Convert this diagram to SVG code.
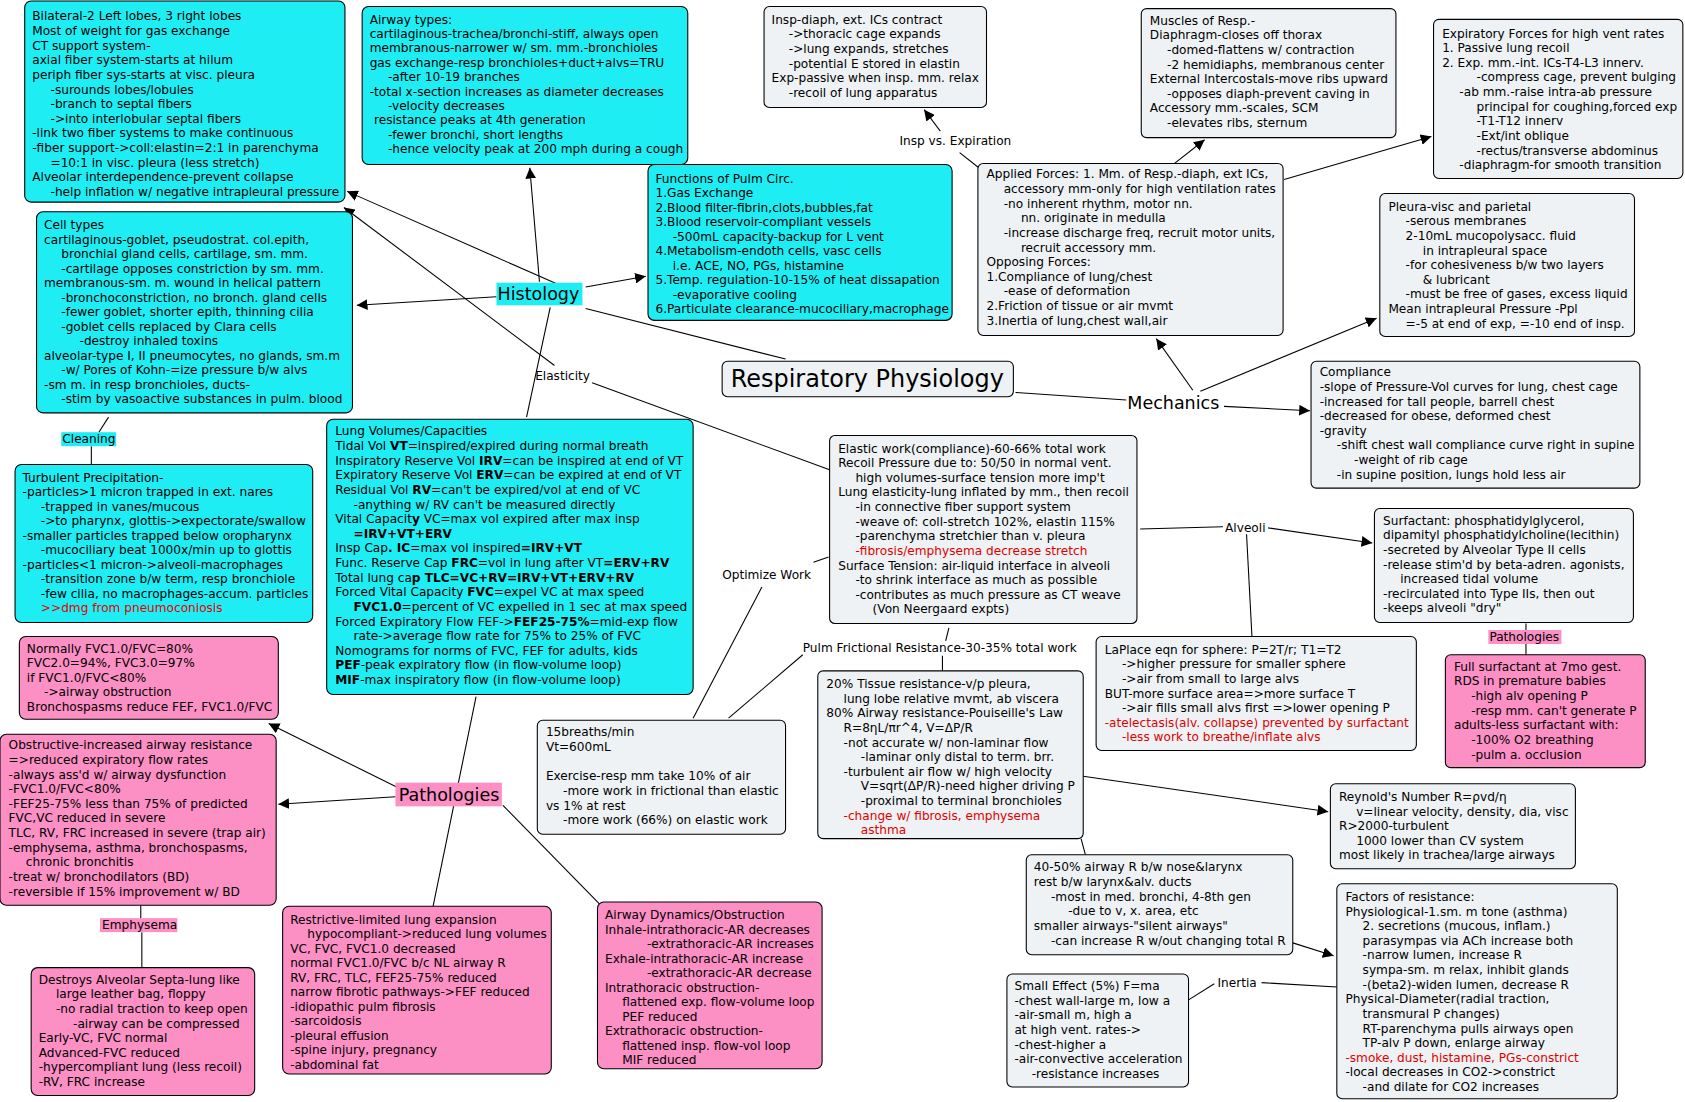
<svg xmlns="http://www.w3.org/2000/svg" width="1685" height="1102" viewBox="0 0 1685 1102">
<defs>
<marker id="ar" viewBox="0 0 10 10" refX="10" refY="5" markerWidth="10" markerHeight="10" markerUnits="userSpaceOnUse" orient="auto"><path d="M0,0 L10,5 L0,10 z" fill="#000"/></marker>
<style>
text{font-family:"DejaVu Sans","Verdana",sans-serif;font-size:11.3px;fill:#000}
.c{fill:#1eeef4;stroke:#000;stroke-width:1}
.g{fill:#eef2f4;stroke:#000;stroke-width:1}
.p{fill:#fc8fc4;stroke:#000;stroke-width:1}
.b{font-weight:bold}
.r{fill:#e00000}
.big{font-size:16.3px}
.lbl{font-size:11.3px}
#conn line,#conn polyline{stroke:#000;stroke-width:1;fill:none}
.a{marker-end:url(#ar)}
</style>
</defs>
<rect width="1685" height="1102" fill="#fff"/>
<g transform="scale(1.07462,1.07512)">
<g id="conn">
<line x1="518" y1="264" x2="323" y2="178" class="a"/>
<line x1="502" y1="262" x2="493" y2="156" class="a"/>
<line x1="545" y1="267" x2="601" y2="257" class="a"/>
<line x1="462" y1="276" x2="332" y2="284" class="a"/>
<line x1="545" y1="287" x2="731" y2="334"/>
<line x1="512" y1="286" x2="490" y2="388"/>
<line x1="516" y1="340" x2="320" y2="193" class="a"/>
<line x1="551" y1="356" x2="772" y2="437"/>
<line x1="101" y1="388" x2="92" y2="402"/>
<line x1="85" y1="415" x2="85" y2="432"/>
<line x1="443" y1="648" x2="403" y2="843"/>
<line x1="371" y1="733" x2="250" y2="673" class="a"/>
<line x1="368" y1="741" x2="259" y2="748" class="a"/>
<line x1="468" y1="749" x2="558" y2="841"/>
<line x1="131" y1="842" x2="131" y2="854"/>
<line x1="132" y1="867" x2="132" y2="900"/>
<line x1="945" y1="365" x2="1048" y2="372"/>
<line x1="1110" y1="363" x2="1076" y2="315" class="a"/>
<line x1="1117" y1="364" x2="1281" y2="296" class="a"/>
<line x1="1139" y1="378" x2="1219" y2="382" class="a"/>
<line x1="912" y1="157" x2="893" y2="142"/>
<line x1="875" y1="122" x2="860" y2="102" class="a"/>
<line x1="1093" y1="152" x2="1121" y2="130" class="a"/>
<line x1="1195" y1="167" x2="1332" y2="127" class="a"/>
<line x1="1061" y1="492" x2="1138" y2="490"/>
<line x1="1180" y1="491" x2="1277" y2="505" class="a"/>
<line x1="1160" y1="497" x2="1165" y2="592"/>
<line x1="1420" y1="580" x2="1420" y2="586"/>
<line x1="1420" y1="599" x2="1420" y2="609"/>
<line x1="771" y1="518" x2="757" y2="523"/>
<line x1="709" y1="546" x2="645" y2="668"/>
<line x1="747" y1="609" x2="678" y2="668"/>
<line x1="883" y1="584" x2="880" y2="596"/>
<line x1="877" y1="610" x2="877" y2="624"/>
<line x1="1008" y1="722" x2="1236" y2="755" class="a"/>
<line x1="1006" y1="780" x2="1010" y2="795"/>
<line x1="1203" y1="877" x2="1241" y2="889" class="a"/>
<line x1="1106" y1="930" x2="1130" y2="915"/>
<line x1="1174" y1="914" x2="1244" y2="918"/>
</g>

<g id="n-box1"><rect class="c" x="23" y="1" width="298" height="187" rx="6"/>
<text y="19"><tspan x="30">Bilateral-2 Left lobes, 3 right lobes</tspan><tspan x="30" dy="13.6">Most of weight for gas exchange</tspan><tspan x="30" dy="13.6">CT support system-</tspan><tspan x="30" dy="13.6">axial fiber system-starts at hilum</tspan><tspan x="30" dy="13.6">periph fiber sys-starts at visc. pleura</tspan><tspan x="47" dy="13.6">-surounds lobes/lobules</tspan><tspan x="47" dy="13.6">-branch to septal fibers</tspan><tspan x="47" dy="13.6">-&gt;into interlobular septal fibers</tspan><tspan x="30" dy="13.6">-link two fiber systems to make continuous</tspan><tspan x="30" dy="13.6">-fiber support-&gt;coll:elastin=2:1 in parenchyma</tspan><tspan x="47" dy="13.6">=10:1 in visc. pleura (less stretch)</tspan><tspan x="30" dy="13.6">Alveolar interdependence-prevent collapse</tspan><tspan x="47" dy="13.6">-help inflation w/ negative intrapleural pressure</tspan></text></g>

<g id="n-airway"><rect class="c" x="337" y="6" width="303" height="147" rx="6"/>
<text y="22"><tspan x="344">Airway types:</tspan><tspan x="344" dy="13.4">cartilaginous-trachea/bronchi-stiff, always open</tspan><tspan x="344" dy="13.4">membranous-narrower w/ sm. mm.-bronchioles</tspan><tspan x="344" dy="13.4">gas exchange-resp bronchioles+duct+alvs=TRU</tspan><tspan x="361" dy="13.4">-after 10-19 branches</tspan><tspan x="344" dy="13.4">-total x-section increases as diameter decreases</tspan><tspan x="361" dy="13.4">-velocity decreases</tspan><tspan x="348" dy="13.4">resistance peaks at 4th generation</tspan><tspan x="361" dy="13.4">-fewer bronchi, short lengths</tspan><tspan x="361" dy="13.4">-hence velocity peak at 200 mph during a cough</tspan></text></g>

<g id="n-func"><rect class="c" x="603" y="153" width="283" height="145" rx="6"/>
<text y="170"><tspan x="610">Functions of Pulm Circ.</tspan><tspan x="610" dy="13.5">1.Gas Exchange</tspan><tspan x="610" dy="13.5">2.Blood filter-fibrin,clots,bubbles,fat</tspan><tspan x="610" dy="13.5">3.Blood reservoir-compliant vessels</tspan><tspan x="626" dy="13.5">-500mL capacity-backup for L vent</tspan><tspan x="610" dy="13.5">4.Metabolism-endoth cells, vasc cells</tspan><tspan x="626" dy="13.5">i.e. ACE, NO, PGs, histamine</tspan><tspan x="610" dy="13.5">5.Temp. regulation-10-15% of heat dissapation</tspan><tspan x="626" dy="13.5">-evaporative cooling</tspan><tspan x="610" dy="13.5">6.Particulate clearance-mucociliary,macrophage</tspan></text></g>

<g id="n-cell"><rect class="c" x="34" y="197" width="294" height="187" rx="6"/>
<text y="213"><tspan x="41">Cell types</tspan><tspan x="41" dy="13.5">cartilaginous-goblet, pseudostrat. col.epith,</tspan><tspan x="57" dy="13.5">bronchial gland cells, cartilage, sm. mm.</tspan><tspan x="57" dy="13.5">-cartilage opposes constriction by sm. mm.</tspan><tspan x="41" dy="13.5">membranous-sm. m. wound in helical pattern</tspan><tspan x="57" dy="13.5">-bronchoconstriction, no bronch. gland cells</tspan><tspan x="57" dy="13.5">-fewer goblet, shorter epith, thinning cilia</tspan><tspan x="57" dy="13.5">-goblet cells replaced by Clara cells</tspan><tspan x="74" dy="13.5">-destroy inhaled toxins</tspan><tspan x="41" dy="13.5">alveolar-type I, II pneumocytes, no glands, sm.m</tspan><tspan x="57" dy="13.5">-w/ Pores of Kohn-=ize pressure b/w alvs</tspan><tspan x="41" dy="13.5">-sm m. in resp bronchioles, ducts-</tspan><tspan x="57" dy="13.5">-stim by vasoactive substances in pulm. blood</tspan></text></g>

<g id="n-cleaning"><rect x="57" y="402" width="51" height="13" fill="#1eeef4"/><text x="58" y="412.5" class="lbl">Cleaning</text></g>

<g id="n-turb"><rect class="c" x="14" y="432" width="277" height="147" rx="6"/>
<text y="448"><tspan x="21">Turbulent Precipitation-</tspan><tspan x="21" dy="13.5">-particles&gt;1 micron trapped in ext. nares</tspan><tspan x="38" dy="13.5">-trapped in vanes/mucous</tspan><tspan x="38" dy="13.5">-&gt;to pharynx, glottis-&gt;expectorate/swallow</tspan><tspan x="21" dy="13.5">-smaller particles trapped below oropharynx</tspan><tspan x="38" dy="13.5">-mucociliary beat 1000x/min up to glottis</tspan><tspan x="21" dy="13.5">-particles&lt;1 micron-&gt;alveoli-macrophages</tspan><tspan x="38" dy="13.5">-transition zone b/w term, resp bronchiole</tspan><tspan x="38" dy="13.5">-few cilia, no macrophages-accum. particles</tspan><tspan x="38" dy="13.5" class="r">&gt;&gt;dmg from pneumoconiosis</tspan></text></g>

<g id="n-vol"><rect class="c" x="304" y="390" width="341" height="256" rx="6"/>
<text y="405"><tspan x="312">Lung Volumes/Capacities</tspan><tspan x="312" dy="13.6">Tidal Vol <tspan class="b">VT</tspan>=inspired/expired during normal breath</tspan><tspan x="312" dy="13.6">Inspiratory Reserve Vol <tspan class="b">IRV</tspan>=can be inspired at end of VT</tspan><tspan x="312" dy="13.6">Expiratory Reserve Vol <tspan class="b">ERV</tspan>=can be expired at end of VT</tspan><tspan x="312" dy="13.6">Residual Vol <tspan class="b">RV</tspan>=can't be expired/vol at end of VC</tspan><tspan x="329" dy="13.6">-anything w/ RV can't be measured directly</tspan><tspan x="312" dy="13.6">Vital Capacit<tspan class="b">y</tspan> VC=max vol expired after max insp</tspan><tspan x="329" dy="13.6" class="b">=IRV+VT+ERV</tspan><tspan x="312" dy="13.6">Insp Cap<tspan class="b">. IC</tspan>=max vol inspired<tspan class="b">=IRV+VT</tspan></tspan><tspan x="312" dy="13.6">Func. Reserve Cap <tspan class="b">FRC</tspan>=vol in lung after VT<tspan class="b">=ERV+RV</tspan></tspan><tspan x="312" dy="13.6">Total lung ca<tspan class="b">p TLC=VC+RV=IRV+VT+ERV+RV</tspan></tspan><tspan x="312" dy="13.6">Forced Vital Capacity <tspan class="b">FVC</tspan>=expel VC at max speed</tspan><tspan x="329" dy="13.6"><tspan class="b">FVC1.0</tspan>=percent of VC expelled in 1 sec at max speed</tspan><tspan x="312" dy="13.6">Forced Expiratory Flow FEF-&gt;<tspan class="b">FEF25-75%</tspan>=mid-exp flow</tspan><tspan x="329" dy="13.6">rate-&gt;average flow rate for 75% to 25% of FVC</tspan><tspan x="312" dy="13.6">Nomograms for norms of FVC, FEF for adults, kids</tspan><tspan x="312" dy="13.6"><tspan class="b">PEF</tspan>-peak expiratory flow (in flow-volume loop)</tspan><tspan x="312" dy="13.6"><tspan class="b">MIF</tspan>-max inspiratory flow (in flow-volume loop)</tspan></text></g>

<g id="n-fvc"><rect class="p" x="18" y="592" width="241" height="77" rx="6"/>
<text y="607"><tspan x="25">Normally FVC1.0/FVC=80%</tspan><tspan x="25" dy="13.5">FVC2.0=94%, FVC3.0=97%</tspan><tspan x="25" dy="13.5">if FVC1.0/FVC&lt;80%</tspan><tspan x="41" dy="13.5">-&gt;airway obstruction</tspan><tspan x="25" dy="13.5">Bronchospasms reduce FEF, FVC1.0/FVC</tspan></text></g>

<g id="n-obs"><rect class="p" x="0" y="683" width="257" height="159" rx="6"/>
<text y="697"><tspan x="8">Obstructive-increased airway resistance</tspan><tspan x="8" dy="13.6">=&gt;reduced expiratory flow rates</tspan><tspan x="8" dy="13.6">-always ass'd w/ airway dysfunction</tspan><tspan x="8" dy="13.6">-FVC1.0/FVC&lt;80%</tspan><tspan x="8" dy="13.6">-FEF25-75% less than 75% of predicted</tspan><tspan x="8" dy="13.6">FVC,VC reduced in severe</tspan><tspan x="8" dy="13.6">TLC, RV, FRC increased in severe (trap air)</tspan><tspan x="8" dy="13.6">-emphysema, asthma, bronchospasms,</tspan><tspan x="24" dy="13.6">chronic bronchitis</tspan><tspan x="8" dy="13.6">-treat w/ bronchodilators (BD)</tspan><tspan x="8" dy="13.6">-reversible if 15% improvement w/ BD</tspan></text></g>

<g id="n-emph"><rect x="93" y="854" width="72" height="13" fill="#fc8fc4"/><text x="95" y="864.5" class="lbl">Emphysema</text></g>

<g id="n-destroy"><rect class="p" x="29" y="900" width="208" height="119" rx="6"/>
<text y="915"><tspan x="36">Destroys Alveolar Septa-lung like</tspan><tspan x="52" dy="13.6">large leather bag, floppy</tspan><tspan x="52" dy="13.6">-no radial traction to keep open</tspan><tspan x="68" dy="13.6">-airway can be compressed</tspan><tspan x="36" dy="13.6">Early-VC, FVC normal</tspan><tspan x="36" dy="13.6">Advanced-FVC reduced</tspan><tspan x="36" dy="13.6">-hypercompliant lung (less recoil)</tspan><tspan x="36" dy="13.6">-RV, FRC increase</tspan></text></g>

<g id="n-restr"><rect class="p" x="263" y="843" width="250" height="156" rx="6"/>
<text y="859"><tspan x="270">Restrictive-limited lung expansion</tspan><tspan x="286" dy="13.5">hypocompliant-&gt;reduced lung volumes</tspan><tspan x="270" dy="13.5">VC, FVC, FVC1.0 decreased</tspan><tspan x="270" dy="13.5">normal FVC1.0/FVC b/c NL airway R</tspan><tspan x="270" dy="13.5">RV, FRC, TLC, FEF25-75% reduced</tspan><tspan x="270" dy="13.5">narrow fibrotic pathways-&gt;FEF reduced</tspan><tspan x="270" dy="13.5">-idiopathic pulm fibrosis</tspan><tspan x="270" dy="13.5">-sarcoidosis</tspan><tspan x="270" dy="13.5">-pleural effusion</tspan><tspan x="270" dy="13.5">-spine injury, pregnancy</tspan><tspan x="270" dy="13.5">-abdominal fat</tspan></text></g>

<g id="n-dyn"><rect class="p" x="556" y="839" width="209" height="155" rx="6"/>
<text y="855"><tspan x="563">Airway Dynamics/Obstruction</tspan><tspan x="563" dy="13.5">Inhale-intrathoracic-AR decreases</tspan><tspan x="602" dy="13.5">-extrathoracic-AR increases</tspan><tspan x="563" dy="13.5">Exhale-intrathoracic-AR increase</tspan><tspan x="602" dy="13.5">-extrathoracic-AR decrease</tspan><tspan x="563" dy="13.5">Intrathoracic obstruction-</tspan><tspan x="579" dy="13.5">flattened exp. flow-volume loop</tspan><tspan x="579" dy="13.5">PEF reduced</tspan><tspan x="563" dy="13.5">Extrathoracic obstruction-</tspan><tspan x="579" dy="13.5">flattened insp. flow-vol loop</tspan><tspan x="579" dy="13.5">MIF reduced</tspan></text></g>

<g id="n-path"><rect x="368" y="728" width="99" height="22" fill="#fc8fc4"/><text x="371" y="745" class="big">Pathologies</text></g>
<g id="n-hist"><rect x="462" y="263" width="80" height="21" fill="#1eeef4"/><text x="463" y="279" class="big">Histology</text></g>
<g id="n-elast"><text x="498" y="353" class="lbl">Elasticity</text></g>

<g id="n-root"><rect class="g" x="672" y="336" width="271" height="33" rx="5"/><text x="680" y="360" style="font-size:22.3px">Respiratory Physiology</text></g>
<g id="n-mech"><text x="1049" y="380" class="big">Mechanics</text></g>

<g id="n-insp"><rect class="g" x="711" y="6" width="207" height="94" rx="5"/>
<text y="22"><tspan x="718">Insp-diaph, ext. ICs contract</tspan><tspan x="734" dy="13.6">-&gt;thoracic cage expands</tspan><tspan x="734" dy="13.6">-&gt;lung expands, stretches</tspan><tspan x="734" dy="13.6">-potential E stored in elastin</tspan><tspan x="718" dy="13.6">Exp-passive when insp. mm. relax</tspan><tspan x="734" dy="13.6">-recoil of lung apparatus</tspan></text></g>
<g id="n-ivse"><text x="837" y="135" class="lbl">Insp vs. Expiration</text></g>

<g id="n-muscle"><rect class="g" x="1062" y="8" width="237" height="120" rx="5"/>
<text y="23"><tspan x="1070">Muscles of Resp.-</tspan><tspan x="1070" dy="13.6">Diaphragm-closes off thorax</tspan><tspan x="1086" dy="13.6">-domed-flattens w/ contraction</tspan><tspan x="1086" dy="13.6">-2 hemidiaphs, membranous center</tspan><tspan x="1070" dy="13.6">External Intercostals-move ribs upward</tspan><tspan x="1086" dy="13.6">-opposes diaph-prevent caving in</tspan><tspan x="1070" dy="13.6">Accessory mm.-scales, SCM</tspan><tspan x="1086" dy="13.6">-elevates ribs, sternum</tspan></text></g>

<g id="n-expf"><rect class="g" x="1334" y="18" width="232" height="148" rx="5"/>
<text y="35"><tspan x="1342">Expiratory Forces for high vent rates</tspan><tspan x="1342" dy="13.6">1. Passive lung recoil</tspan><tspan x="1342" dy="13.6">2. Exp. mm.-int. ICs-T4-L3 innerv.</tspan><tspan x="1374" dy="13.6">-compress cage, prevent bulging</tspan><tspan x="1358" dy="13.6">-ab mm.-raise intra-ab pressure</tspan><tspan x="1374" dy="13.6">principal for coughing,forced exp</tspan><tspan x="1374" dy="13.6">-T1-T12 innerv</tspan><tspan x="1374" dy="13.6">-Ext/int oblique</tspan><tspan x="1374" dy="13.6">-rectus/transverse abdominus</tspan><tspan x="1358" dy="13.6">-diaphragm-for smooth transition</tspan></text></g>

<g id="n-applied"><rect class="g" x="910" y="152" width="284" height="160" rx="5"/>
<text y="166"><tspan x="918">Applied Forces: 1. Mm. of Resp.-diaph, ext ICs,</tspan><tspan x="934" dy="13.6">accessory mm-only for high ventilation rates</tspan><tspan x="934" dy="13.6">-no inherent rhythm, motor nn.</tspan><tspan x="950" dy="13.6">nn. originate in medulla</tspan><tspan x="934" dy="13.6">-increase discharge freq, recruit motor units,</tspan><tspan x="950" dy="13.6">recruit accessory mm.</tspan><tspan x="918" dy="13.6">Opposing Forces:</tspan><tspan x="918" dy="13.6">1.Compliance of lung/chest</tspan><tspan x="934" dy="13.6">-ease of deformation</tspan><tspan x="918" dy="13.6">2.Friction of tissue or air mvmt</tspan><tspan x="918" dy="13.6">3.Inertia of lung,chest wall,air</tspan></text></g>

<g id="n-pleura"><rect class="g" x="1284" y="180" width="237" height="133" rx="5"/>
<text y="196"><tspan x="1292">Pleura-visc and parietal</tspan><tspan x="1308" dy="13.6">-serous membranes</tspan><tspan x="1308" dy="13.6">2-10mL mucopolysacc. fluid</tspan><tspan x="1324" dy="13.6">in intrapleural space</tspan><tspan x="1308" dy="13.6">-for cohesiveness b/w two layers</tspan><tspan x="1324" dy="13.6">&amp; lubricant</tspan><tspan x="1308" dy="13.6">-must be free of gases, excess liquid</tspan><tspan x="1292" dy="13.6">Mean intrapleural Pressure -Ppl</tspan><tspan x="1308" dy="13.6">=-5 at end of exp, =-10 end of insp.</tspan></text></g>

<g id="n-compl"><rect class="g" x="1220" y="336" width="306" height="118" rx="5"/>
<text y="350"><tspan x="1228">Compliance</tspan><tspan x="1228" dy="13.6">-slope of Pressure-Vol curves for lung, chest cage</tspan><tspan x="1228" dy="13.6">-increased for tall people, barrell chest</tspan><tspan x="1228" dy="13.6">-decreased for obese, deformed chest</tspan><tspan x="1228" dy="13.6">-gravity</tspan><tspan x="1244" dy="13.6">-shift chest wall compliance curve right in supine</tspan><tspan x="1260" dy="13.6">-weight of rib cage</tspan><tspan x="1244" dy="13.6">-in supine position, lungs hold less air</tspan></text></g>

<g id="n-elastic"><rect class="g" x="772" y="405" width="286" height="175" rx="5"/>
<text y="421"><tspan x="780">Elastic work(compliance)-60-66% total work</tspan><tspan x="780" dy="13.6">Recoil Pressure due to: 50/50 in normal vent.</tspan><tspan x="796" dy="13.6">high volumes-surface tension more imp't</tspan><tspan x="780" dy="13.6">Lung elasticity-lung inflated by mm., then recoil</tspan><tspan x="796" dy="13.6">-in connective fiber support system</tspan><tspan x="796" dy="13.6">-weave of: coll-stretch 102%, elastin 115%</tspan><tspan x="796" dy="13.6">-parenchyma stretchier than v. pleura</tspan><tspan x="796" dy="13.6" class="r">-fibrosis/emphysema decrease stretch</tspan><tspan x="780" dy="13.6">Surface Tension: air-liquid interface in alveoli</tspan><tspan x="796" dy="13.6">-to shrink interface as much as possible</tspan><tspan x="796" dy="13.6">-contributes as much pressure as CT weave</tspan><tspan x="812" dy="13.6">(Von Neergaard expts)</tspan></text></g>

<g id="n-alveoli"><text x="1140" y="495" class="lbl">Alveoli</text></g>

<g id="n-surf"><rect class="g" x="1279" y="473" width="241" height="106" rx="5"/>
<text y="488"><tspan x="1287">Surfactant: phosphatidylglycerol,</tspan><tspan x="1287" dy="13.6">dipamityl phosphatidylcholine(lecithin)</tspan><tspan x="1287" dy="13.6">-secreted by Alveolar Type II cells</tspan><tspan x="1287" dy="13.6">-release stim'd by beta-adren. agonists,</tspan><tspan x="1303" dy="13.6">increased tidal volume</tspan><tspan x="1287" dy="13.6">-recirculated into Type IIs, then out</tspan><tspan x="1287" dy="13.6">-keeps alveoli "dry"</tspan></text></g>

<g id="n-path2"><rect x="1385" y="586" width="68" height="13" fill="#fc8fc4"/><text x="1386" y="596.5" class="lbl">Pathologies</text></g>

<g id="n-rds"><rect class="p" x="1345" y="609" width="186" height="105" rx="5"/>
<text y="624"><tspan x="1353">Full surfactant at 7mo gest.</tspan><tspan x="1353" dy="13.6">RDS in premature babies</tspan><tspan x="1369" dy="13.6">-high alv opening P</tspan><tspan x="1369" dy="13.6">-resp mm. can't generate P</tspan><tspan x="1353" dy="13.6">adults-less surfactant with:</tspan><tspan x="1369" dy="13.6">-100% O2 breathing</tspan><tspan x="1369" dy="13.6">-pulm a. occlusion</tspan></text></g>

<g id="n-laplace"><rect class="g" x="1020" y="592" width="298" height="106" rx="5"/>
<text y="608"><tspan x="1028">LaPlace eqn for sphere: P=2T/r; T1=T2</tspan><tspan x="1044" dy="13.6">-&gt;higher pressure for smaller sphere</tspan><tspan x="1044" dy="13.6">-&gt;air from small to large alvs</tspan><tspan x="1028" dy="13.6">BUT-more surface area=&gt;more surface T</tspan><tspan x="1044" dy="13.6">-&gt;air fills small alvs first =&gt;lower opening P</tspan><tspan x="1028" dy="13.6" class="r">-atelectasis(alv. collapse) prevented by surfactant</tspan><tspan x="1044" dy="13.6" class="r">-less work to breathe/inflate alvs</tspan></text></g>

<g id="n-opt"><text x="672" y="539" class="lbl">Optimize Work</text></g>
<g id="n-pfr"><text x="747" y="606" class="lbl">Pulm Frictional Resistance-30-35% total work</text></g>

<g id="n-tissue"><rect class="g" x="761" y="624" width="247" height="156" rx="5"/>
<text y="640"><tspan x="769">20% Tissue resistance-v/p pleura,</tspan><tspan x="785" dy="13.6">lung lobe relative mvmt, ab viscera</tspan><tspan x="769" dy="13.6">80% Airway resistance-Pouiseille's Law</tspan><tspan x="785" dy="13.6">R=8ηL/πr^4, V=ΔP/R</tspan><tspan x="785" dy="13.6">-not accurate w/ non-laminar flow</tspan><tspan x="801" dy="13.6">-laminar only distal to term. brr.</tspan><tspan x="785" dy="13.6">-turbulent air flow w/ high velocity</tspan><tspan x="801" dy="13.6">V=sqrt(ΔP/R)-need higher driving P</tspan><tspan x="801" dy="13.6">-proximal to terminal bronchioles</tspan><tspan x="785" dy="13.6" class="r">-change w/ fibrosis, emphysema</tspan><tspan x="801" dy="13.6" class="r">asthma</tspan></text></g>

<g id="n-breaths"><rect class="g" x="500" y="670" width="231" height="106" rx="5"/>
<text y="685"><tspan x="508">15breaths/min</tspan><tspan x="508" dy="13.6">Vt=600mL</tspan><tspan x="508" dy="27.2">Exercise-resp mm take 10% of air</tspan><tspan x="524" dy="13.6">-more work in frictional than elastic</tspan><tspan x="508" dy="13.6">vs 1% at rest</tspan><tspan x="524" dy="13.6">-more work (66%) on elastic work</tspan></text></g>

<g id="n-rey"><rect class="g" x="1238" y="729" width="228" height="79" rx="5"/>
<text y="745"><tspan x="1246">Reynold's Number R=ρvd/η</tspan><tspan x="1262" dy="13.6">v=linear velocity, density, dia, visc</tspan><tspan x="1246" dy="13.6">R&gt;2000-turbulent</tspan><tspan x="1262" dy="13.6">1000 lower than CV system</tspan><tspan x="1246" dy="13.6">most likely in trachea/large airways</tspan></text></g>

<g id="n-4050"><rect class="g" x="955" y="795" width="248" height="93" rx="5"/>
<text y="810"><tspan x="962">40-50% airway R b/w nose&amp;larynx</tspan><tspan x="962" dy="13.8">rest b/w larynx&amp;alv. ducts</tspan><tspan x="978" dy="13.8">-most in med. bronchi, 4-8th gen</tspan><tspan x="994" dy="13.8">-due to v, x. area, etc</tspan><tspan x="962" dy="13.8">smaller airways-"silent airways"</tspan><tspan x="978" dy="13.8">-can increase R w/out changing total R</tspan></text></g>

<g id="n-factors"><rect class="g" x="1244" y="822" width="261" height="200" rx="5"/>
<text y="838"><tspan x="1252">Factors of resistance:</tspan><tspan x="1252" dy="13.6">Physiological-1.sm. m tone (asthma)</tspan><tspan x="1268" dy="13.6">2. secretions (mucous, inflam.)</tspan><tspan x="1268" dy="13.6">parasympas via ACh increase both</tspan><tspan x="1268" dy="13.6">-narrow lumen, increase R</tspan><tspan x="1268" dy="13.6">sympa-sm. m relax, inhibit glands</tspan><tspan x="1268" dy="13.6">-(beta2)-widen lumen, decrease R</tspan><tspan x="1252" dy="13.6">Physical-Diameter(radial traction,</tspan><tspan x="1268" dy="13.6">transmural P changes)</tspan><tspan x="1268" dy="13.6">RT-parenchyma pulls airways open</tspan><tspan x="1268" dy="13.6">TP-alv P down, enlarge airway</tspan><tspan x="1252" dy="13.6" class="r">-smoke, dust, histamine, PGs-constrict</tspan><tspan x="1252" dy="13.6">-local decreases in CO2-&gt;constrict</tspan><tspan x="1268" dy="13.6">-and dilate for CO2 increases</tspan></text></g>

<g id="n-small"><rect class="g" x="937" y="906" width="169" height="105" rx="5"/>
<text y="921"><tspan x="944">Small Effect (5%) F=ma</tspan><tspan x="944" dy="13.6">-chest wall-large m, low a</tspan><tspan x="944" dy="13.6">-air-small m, high a</tspan><tspan x="944" dy="13.6">at high vent. rates-&gt;</tspan><tspan x="944" dy="13.6">-chest-higher a</tspan><tspan x="944" dy="13.6">-air-convective acceleration</tspan><tspan x="960" dy="13.6">-resistance increases</tspan></text></g>
<g id="n-inertia"><text x="1133" y="918" class="lbl">Inertia</text></g>
</g>
</svg>
